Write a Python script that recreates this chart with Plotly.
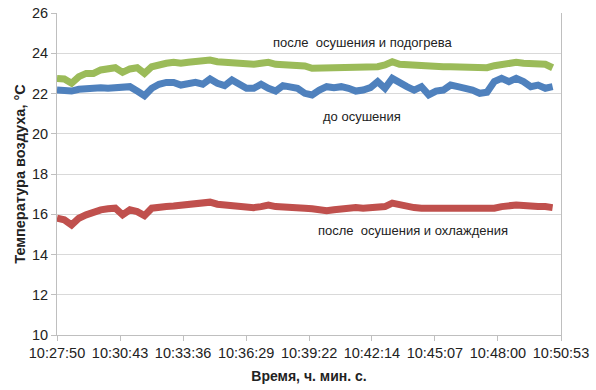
import pandas as pd
import plotly.graph_objects as go

# sampling: every 20 s starting 10:27:50
start_time = "2020-01-01 10:27:50"
step_seconds = 20

green_vals = [22.75, 22.72, 22.51, 22.84, 23.00, 23.00, 23.17, 23.25, 23.28, 23.05,
              23.22, 23.28, 23.00, 23.33, 23.45, 23.50, 23.55, 23.50, 23.55, 23.58,
              23.61, 23.66, 23.58, 23.55, 23.50, 23.47, 23.48, 23.45, 23.50, 23.55,
              23.45, 23.42, 23.45, 23.38, 23.37,
              23.25, 23.25, 23.28, 23.32, 23.33, 23.33, 23.28, 23.25, 23.28, 23.33,
              23.42, 23.58, 23.45, 23.42, 23.42, 23.38, 23.33, 23.38, 23.33, 23.33,
              23.33, 23.33, 23.28, 23.25, 23.28, 23.38, 23.45, 23.50, 23.55, 23.50,
              23.50, 23.45, 23.45, 23.28]

blue_vals = [22.17, 22.17, 22.12, 22.21, 22.26, 22.26, 22.29, 22.26, 22.29, 22.34,
             22.34, 22.12, 21.89, 22.26, 22.46, 22.55, 22.55, 22.42, 22.51, 22.55,
             22.46, 22.72, 22.51, 22.39, 22.67, 22.42, 22.26, 22.26, 22.46, 22.26,
             22.12, 22.39, 22.34, 22.26, 22.01,
             21.93, 22.17, 22.34, 22.29, 22.34, 22.26, 22.12, 22.17, 22.29, 22.59,
             22.26, 22.75, 22.51, 22.34, 22.17, 22.34, 21.93, 22.12, 22.17, 22.42,
             22.34, 22.26, 22.17, 22.01, 22.06, 22.59, 22.75, 22.59, 22.75, 22.59,
             22.34, 22.42, 22.26, 22.34]

red_vals = [15.80, 15.72, 15.47, 15.80, 15.97, 16.13, 16.22, 16.27, 16.30, 15.97,
            16.22, 16.13, 15.93, 16.30, 16.38, 16.38, 16.41, 16.46, 16.50, 16.50,
            16.55, 16.60, 16.50, 16.46, 16.50, 16.38, 16.38, 16.33, 16.38, 16.46,
            16.38, 16.38, 16.33, 16.33, 16.30,
            16.27, 16.22, 16.17, 16.22, 16.27, 16.30, 16.33, 16.30, 16.30, 16.33,
            16.38, 16.55, 16.46, 16.38, 16.33, 16.30, 16.30, 16.27, 16.30, 16.30,
            16.30, 16.27, 16.27, 16.27, 16.22, 16.30, 16.38, 16.43, 16.46, 16.43,
            16.38, 16.38, 16.38, 16.33]

tick_labels = ["10:27:50", "10:30:43", "10:33:36", "10:36:29", "10:39:22",
               "10:42:14", "10:45:07", "10:48:00", "10:50:53"]

label_green = "после  осушения и подогрева"
label_blue = "до осушения"
label_red = "после  осушения и охлаждения"

times = pd.date_range(start=start_time, periods=len(green_vals), freq=f"{step_seconds}s")
tickvals = [pd.Timestamp("2020-01-01 " + t) for t in tick_labels]

fig = go.Figure()
for vals, color in [(green_vals, "#9BBB59"), (blue_vals, "#4F81BD"), (red_vals, "#C0504D")]:
    fig.add_trace(go.Scatter(x=times, y=vals, mode="lines",
                             line=dict(color=color, width=7), showlegend=False))

font_family = "Liberation Sans, Arial, sans-serif"
ann_font = dict(size=13, color="#222222", family=font_family)

fig.add_annotation(x=pd.Timestamp("2020-01-01 10:41:47"), y=24.51, text=label_green,
                   showarrow=False, font=ann_font)
fig.add_annotation(x=pd.Timestamp("2020-01-01 10:41:47"), y=20.88, text=label_blue,
                   showarrow=False, font=ann_font)
fig.add_annotation(x=pd.Timestamp("2020-01-01 10:44:07"), y=15.17, text=label_red,
                   showarrow=False, font=ann_font)

fig.update_layout(
    width=596, height=390,
    margin=dict(l=57, r=35, t=13, b=55),
    plot_bgcolor="white", paper_bgcolor="white",
    font=dict(family=font_family, size=14, color="#222222"),
)
fig.update_xaxes(
    range=[tickvals[0], tickvals[-1]], automargin=False,
    tickvals=tickvals, ticktext=tick_labels,
    showgrid=False, showline=True, linecolor="#BFBFBF", linewidth=1,
    ticks="outside", ticklen=5, tickcolor="#BFBFBF",
    tickfont=dict(size=14.5, color="#222222"),
    title=dict(text="<b>Время, ч. мин. с.</b>", font=dict(size=14, color="#222222"), standoff=10),
    zeroline=False,
)
fig.update_yaxes(
    range=[10, 26], dtick=2, tick0=10, automargin=False,
    showgrid=True, gridcolor="#D9D9D9", gridwidth=1,
    showline=True, linecolor="#BFBFBF", linewidth=1, mirror=True,
    ticks="outside", ticklen=5, tickcolor="#BFBFBF",
    tickfont=dict(size=14.5, color="#222222"),
    title=dict(text="<b>Температура воздуха, °С</b>", font=dict(size=14.5, color="#222222"), standoff=2),
    zeroline=False,
)

fig.write_html("out.html", config={"displayModeBar": False},
               post_script="document.body.style.margin='0';")
